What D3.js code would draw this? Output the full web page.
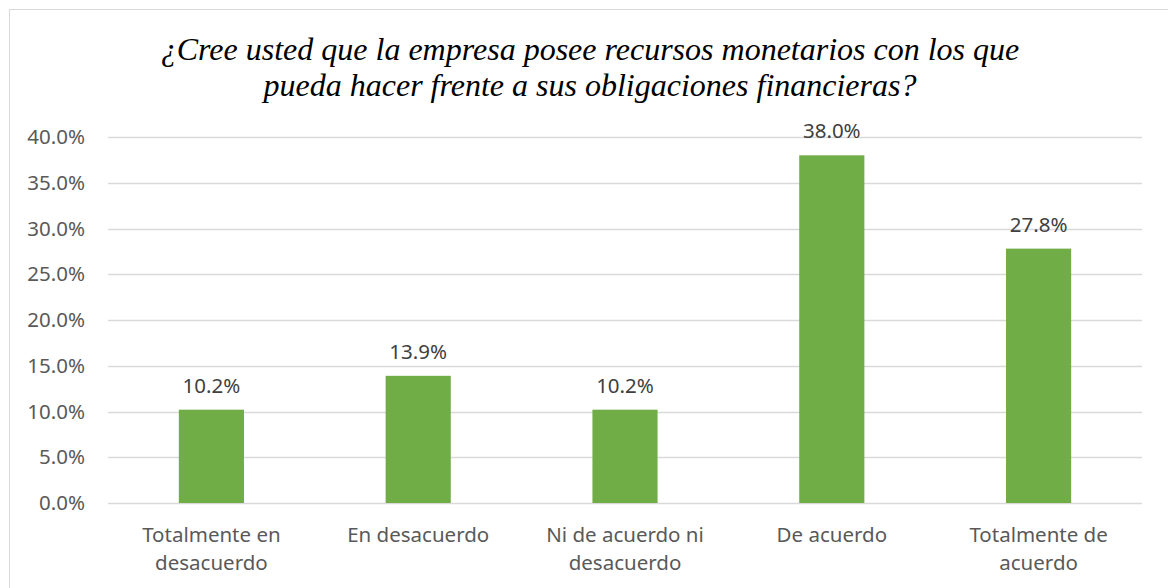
<!DOCTYPE html>
<html>
<head>
<meta charset="utf-8">
<script src="https://cdn.jsdelivr.net/npm/d3@7"></script>
<style>
  body { margin: 0; background: #fff; }
  svg { display: block; }
</style>
</head>
<body>
<div class="graph-goes-here"></div>
<script>
// chart data
var categories = [["Totalmente en", "desacuerdo"], ["En desacuerdo"], ["Ni de acuerdo ni", "desacuerdo"], ["De acuerdo"], ["Totalmente de", "acuerdo"]];
var values = [10.2, 13.9, 10.2, 38.0, 27.8];
var yTicks = [0, 5, 10, 15, 20, 25, 30, 35, 40];
var titleLines = ["¿Cree usted que la empresa posee recursos monetarios con los que", "pueda hacer frente a sus obligaciones financieras?"];

var W = 1168, H = 588;
var margin = { top: 137, right: 26, bottom: 85, left: 108 },
    width = W - margin.left - margin.right,
    height = H - margin.top - margin.bottom;

var root = d3.select(".graph-goes-here").append("svg")
    .attr("width", W)
    .attr("height", H);

// outer frame
root.append("rect")
    .attr("x", 9.5).attr("y", 9.5)
    .attr("width", W + 20).attr("height", H + 20)
    .attr("fill", "none")
    .attr("stroke", "#d9d9d9")
    .attr("stroke-width", 1);

// title
root.append("text")
    .attr("text-anchor", "middle")
    .style("font-family", "'Liberation Serif', 'Times New Roman', serif")
    .style("font-style", "italic")
    .style("font-size", "32px")
    .attr("fill", "#000")
    .selectAll("tspan")
    .data(titleLines)
    .enter().append("tspan")
    .attr("x", 590)
    .attr("y", (d, i) => 60 + i * 36)
    .text(d => d);

var svg = root.append("g")
    .attr("transform", "translate(" + margin.left + "," + margin.top + ")");

var x = d3.scaleBand().domain(d3.range(categories.length)).range([0, width]).padding(0);
var y = d3.scaleLinear().domain([0, 40]).range([height, 0]);
var barW = x.bandwidth() * 0.315;

var font = "'Noto Sans', 'Open Sans', sans-serif";
var fs = "20.5px";

// gridlines
svg.append("g")
    .selectAll("line")
    .data(yTicks)
    .enter().append("line")
    .attr("x1", 0).attr("x2", width)
    .attr("y1", d => Math.round(y(d)) + 0.5)
    .attr("y2", d => Math.round(y(d)) + 0.5)
    .attr("stroke", "#d9d9d9")
    .attr("stroke-width", 1.3);

// y axis labels
var yAxis = svg.append("g")
    .call(d3.axisLeft(y).tickValues(yTicks).tickSize(0).tickPadding(23).tickFormat(d => d.toFixed(1) + "%"));
yAxis.select(".domain").remove();
yAxis.selectAll("text")
    .style("font-family", font)
    .style("font-size", fs)
    .attr("fill", "#595959");

// bars
svg.append("g")
    .selectAll("rect")
    .data(values)
    .enter().append("rect")
    .attr("x", (d, i) => x(i) + (x.bandwidth() - barW) / 2)
    .attr("y", d => y(d))
    .attr("width", barW)
    .attr("height", d => height - y(d))
    .attr("fill", "#70ad47");

// value labels
svg.append("g")
    .selectAll("text")
    .data(values)
    .enter().append("text")
    .attr("x", (d, i) => x(i) + x.bandwidth() / 2)
    .attr("y", d => y(d) - 17)
    .attr("text-anchor", "middle")
    .style("font-family", font)
    .style("font-size", fs)
    .attr("fill", "#404040")
    .text(d => d.toFixed(1) + "%");

// category labels
var cat = svg.append("g")
    .selectAll("text")
    .data(categories)
    .enter().append("text")
    .attr("text-anchor", "middle")
    .style("font-family", font)
    .style("font-size", fs)
    .attr("fill", "#595959");

cat.selectAll("tspan")
    .data((d, i) => d.map(t => ({ t: t, i: i })))
    .enter().append("tspan")
    .attr("x", d => x(d.i) + x.bandwidth() / 2)
    .attr("y", (d, j) => height + 39 + j * 28)
    .text(d => d.t);
</script>
</body>
</html>
